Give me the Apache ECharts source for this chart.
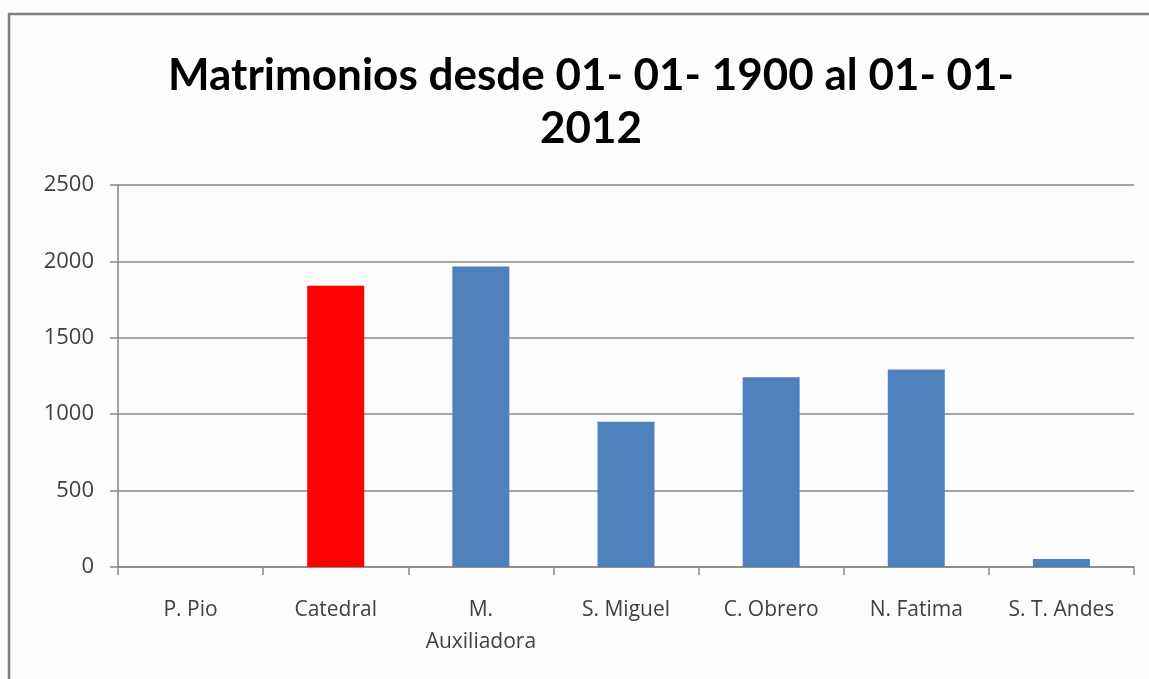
<!DOCTYPE html>
<html>
<head>
<meta charset="utf-8">
<script src="https://cdn.jsdelivr.net/npm/echarts@6/dist/echarts.min.js"></script>
<style>
  html, body { margin: 0; padding: 0; background: #fff; }
  #chart { width: 1149px; height: 679px; }
</style>
</head>
<body>
<div id="chart"></div>
<script>
// datos
var parroquias = ['P. Pio', 'Catedral', 'M.\nAuxiliadora', 'S. Miguel', 'C. Obrero', 'N. Fatima', 'S. T. Andes'];
var matrimonios = [0, 1840, 1966, 950, 1242, 1292, 52];
var colores = ['#4F81BD', '#FF0000', '#4F81BD', '#4F81BD', '#4F81BD', '#4F81BD', '#4F81BD'];
var yTicks = [0, 500, 1000, 1500, 2000, 2500];

var chart = echarts.init(document.getElementById('chart'));

var barData = matrimonios.map(function (v, i) {
  return { value: v, itemStyle: { color: colores[i] } };
});

chart.setOption({
  backgroundColor: '#fdfdfd',
  animation: false,
  title: {
    text: 'Matrimonios desde 01- 01- 1900 al 01- 01-\n2012',
    left: 586,
    textAlign: 'center',
    top: 44,
    textStyle: {
      fontFamily: 'Lato',
      fontWeight: 'bold',
      fontSize: 44,
      lineHeight: 53,
      color: '#000'
    }
  },
  graphic: [
    { type: 'line', shape: { x1: 8, y1: 14, x2: 1149, y2: 14 }, style: { stroke: '#7f7f7f', lineWidth: 2.5 } },
    { type: 'line', shape: { x1: 9, y1: 13, x2: 9, y2: 679 }, style: { stroke: '#7f7f7f', lineWidth: 2.5 } }
  ],
  grid: { left: 118, right: 15, top: 185, bottom: 112 },
  xAxis: {
    type: 'category',
    data: parroquias,
    axisLine: { lineStyle: { color: '#868686', width: 1.5 } },
    axisTick: { show: true, length: 8, inside: false, lineStyle: { color: '#868686', width: 1.5 } },
    axisLabel: {
      interval: 0,
      margin: 27,
      fontFamily: 'Open Sans',
      fontSize: 21,
      lineHeight: 32,
      color: '#404040'
    }
  },
  yAxis: {
    type: 'value',
    min: yTicks[0],
    max: yTicks[yTicks.length - 1],
    interval: 500,
    axisLine: { show: true, lineStyle: { color: '#868686', width: 1.5 } },
    axisTick: { show: true, length: 8, lineStyle: { color: '#868686', width: 1.5 } },
    splitLine: { lineStyle: { color: '#868686', width: 1.5 } },
    axisLabel: {
      margin: 24,
      fontFamily: 'Open Sans',
      fontSize: 22,
      color: '#404040',
      formatter: function (v) { return String(v); }
    }
  },
  series: [{
    type: 'bar',
    data: barData,
    barWidth: 57
  }]
});
</script>
</body>
</html>
